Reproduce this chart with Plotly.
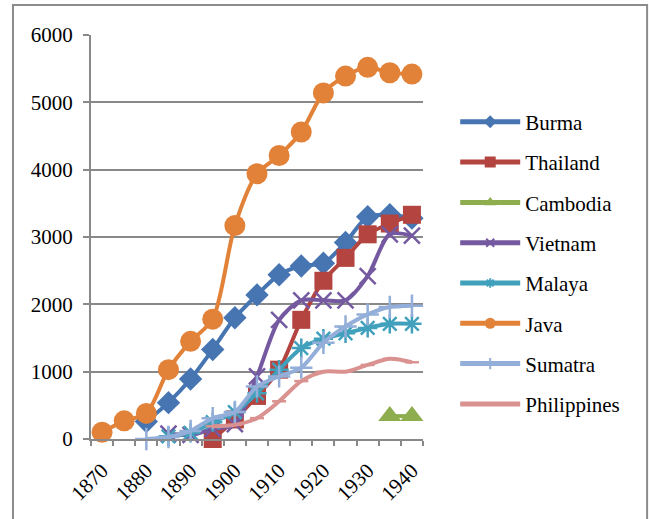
import plotly.graph_objects as go

# Census years (every 5 years) and the labels shown on the category axis
years = [1870, 1875, 1880, 1885, 1890, 1895, 1900, 1905, 1910, 1915, 1920, 1925, 1930, 1935, 1940]
tick_labels = ["1870", "1880", "1890", "1900", "1910", "1920", "1930", "1940"]

burma = [None, None, 260, 540, 890, 1330, 1800, 2140, 2440, 2570, 2610, 2920, 3300, 3330, 3280]
thailand = [None, None, None, None, None, 0, 290, 640, 1030, 1770, 2350, 2690, 3040, 3200, 3330]
cambodia = [None, None, None, None, None, None, None, None, None, None, None, None, None, 340, 340]
vietnam = [None, None, None, 80, 60, 150, 220, 930, 1770, 2060, 2060, 2060, 2420, 3040, 3020]
malaya = [None, None, None, 40, 90, 250, 400, 680, 1030, 1350, 1490, 1570, 1650, 1710, 1710]
java = [100, 270, 380, 1030, 1450, 1780, 3170, 3940, 4210, 4560, 5140, 5390, 5520, 5440, 5420]
sumatra = [None, None, 0, 30, 120, 310, 400, 780, 930, 1060, 1430, 1670, 1850, 1960, 1980]
philippines = [None, None, None, None, None, 190, 210, 310, 560, 860, 1000, 1000, 1100, 1190, 1140]

series = [
    ("Burma", burma, "#4675B2", "diamond", 18),
    ("Thailand", thailand, "#B3443F", "square", 18),
    ("Cambodia", cambodia, "#8EAD4E", "triangle-up", 20),
    ("Vietnam", vietnam, "#7559A0", "x-thin", 16),
    ("Malaya", malaya, "#41A0BC", "asterisk", 16),
    ("Java", java, "#E28239", "circle", 21),
    ("Sumatra", sumatra, "#93AED8", "cross-thin", 16),
    ("Philippines", philippines, "#D99290", "line-ew", 10),
]

legend_sizes = {"circle": 11, "square": 11, "diamond": 10, "triangle-up": 11,
                "x-thin": 8, "asterisk": 8, "cross-thin": 8, "line-ew": 6}

xs = list(range(len(years)))
fig = go.Figure()

for name, vals, color, symbol, size in series:
    thin = symbol in ("x-thin", "asterisk", "cross-thin", "line-ew")
    fig.add_trace(go.Scatter(
        x=xs, y=vals, name=name, mode="lines+markers",
        line=dict(color=color, width=4, shape="spline", smoothing=0.8),
        marker=dict(symbol=symbol, size=size, color=color,
                    line=dict(color=color, width=2.5 if thin else 0)),
        showlegend=False, hoverinfo="skip", cliponaxis=False,
    ))

# Legend entries with compact symbols
for name, vals, color, symbol, size in series:
    thin = symbol in ("x-thin", "asterisk", "cross-thin", "line-ew")
    fig.add_trace(go.Scatter(
        x=[None], y=[None], name=name, mode="lines+markers",
        line=dict(color=color, width=5),
        marker=dict(symbol=symbol, size=legend_sizes[symbol], color=color,
                    line=dict(color=color, width=2 if thin else 0)),
        legendgroup=name,
    ))

grid_col = "#898989"
font_family = "Times New Roman"

fig.update_layout(
    width=649, height=519,
    margin=dict(l=91, r=226, t=35, b=80),
    paper_bgcolor="white", plot_bgcolor="white",
    font=dict(family=font_family, size=21, color="black"),
    showlegend=True,
    legend=dict(x=1.097, y=0.835, xanchor="left", yanchor="top",
                font=dict(family=font_family, size=21), tracegroupgap=10, itemwidth=60,
                bgcolor="rgba(0,0,0,0)"),
    xaxis=dict(
        range=[-0.5, len(years) - 0.5], showgrid=False, zeroline=False,
        tickmode="array", tickvals=xs[::2], ticktext=tick_labels,
        tickangle=-45, ticks="", ticklen=0,
        tickfont=dict(family=font_family, size=21),
        showline=True, linecolor=grid_col, linewidth=2,
        ticklabelstandoff=9,
        minor=dict(ticks="outside", tick0=-0.5, dtick=1, ticklen=5,
                   tickcolor=grid_col, tickwidth=2, showgrid=False),
    ),
    yaxis=dict(
        range=[0, 6000], tickvals=[0, 1000, 2000, 3000, 4000, 5000, 6000],
        showgrid=True, gridcolor=grid_col, gridwidth=2, zeroline=False,
        ticks="outside", ticklen=6, tickcolor=grid_col, tickwidth=2,
        tickfont=dict(family=font_family, size=21),
        showline=True, linecolor=grid_col, linewidth=2,
        ticklabelstandoff=6,
    ),
    shapes=[dict(type="rect", xref="paper", yref="paper",
                 x0=-0.235, x1=1.675, y0=-0.3, y1=1.074,
                 line=dict(color="#8C8C8C", width=2), layer="below")],
)

fig.write_html("out.html")
